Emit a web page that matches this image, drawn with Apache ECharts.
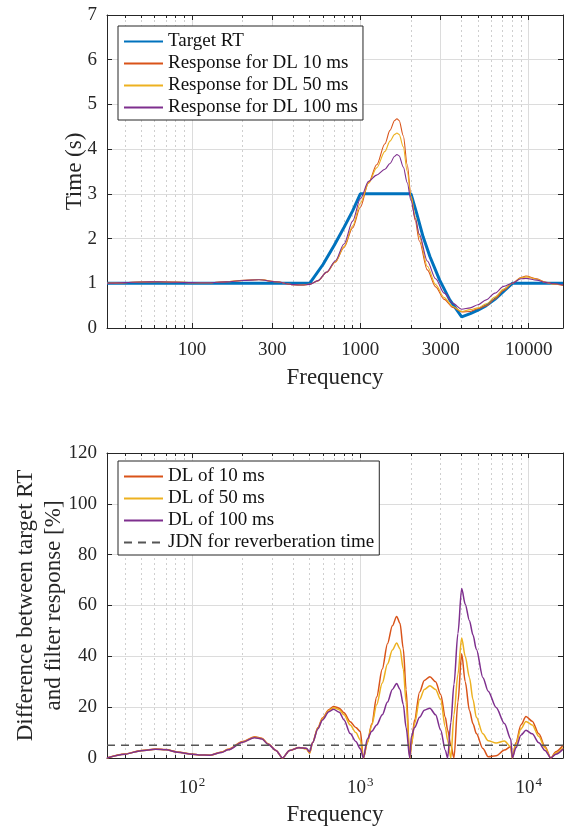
<!DOCTYPE html>
<html>
<head>
<meta charset="utf-8">
<script src="https://cdn.jsdelivr.net/npm/echarts@6/dist/echarts.min.js"></script>
<style>
html, body { margin: 0; padding: 0; background: #fff; }
#chart { width: 564px; height: 830px; }
</style>
</head>
<body>
<div id="chart"></div>
<script>
// frequency range (octave bands 31.25 .. 16000 Hz)
var fMin = 31.25, fMax = 16000;

// top plot: reverberation time
var topMajors = [100, 300, 1000, 3000, 10000];
var topLabels = ['100', '300', '1000', '3000', '10000'];
var topMinors = [40, 50, 60, 70, 80, 90, 200, 400, 500, 600, 700, 800, 900,
  2000, 4000, 5000, 6000, 7000, 8000, 9000];
var botMinors = [40, 50, 60, 70, 80, 90, 200, 300, 400, 500, 600, 700, 800, 900,
  2000, 3000, 4000, 5000, 6000, 7000, 8000, 9000];

var targetF = [31.25, 500, 600, 700, 800, 900, 1000, 2000, 2160, 2360, 2590, 2960, 3400, 4000,
  4500, 5000, 5600, 6300, 7100, 8000, 16000];
var targetRT = [1, 1, 1.42, 1.85, 2.25, 2.62, 3, 3, 2.57, 2.04, 1.6, 1.07, 0.63, 0.25,
  0.32, 0.4, 0.5, 0.64, 0.82, 1, 1];

var fTop = [31.25, 40, 50, 63, 80, 100, 125, 160, 200, 250, 315, 400, 450, 500, 560, 630, 710, 800, 900,
  1000, 1120, 1250, 1400, 1500, 1600, 1650, 1700, 1800, 1900, 2000, 2120, 2240, 2500, 2800, 3150, 3550,
  4000, 4500, 5000, 5600, 6300, 7100, 8000, 9000, 9640, 11200, 12500, 14000, 16000];
var rt10 = [1.00, 1.015, 1.03, 1.035, 1.025, 1.015, 1.011, 1.035, 1.065, 1.083, 1.035, 0.97, 0.96, 0.98, 1.05, 1.24, 1.47, 1.80, 2.24,
  2.70, 3.25, 3.65, 4.12, 4.42, 4.64, 4.68, 4.64, 4.30, 3.65, 2.95, 2.40, 1.95, 1.30, 0.92, 0.64, 0.46,
  0.36, 0.37, 0.43, 0.50, 0.65, 0.84, 1.00, 1.13, 1.163, 1.10, 1.03, 0.99, 0.95];
var rt50 = [1.00, 1.015, 1.03, 1.034, 1.024, 1.015, 1.011, 1.034, 1.063, 1.082, 1.035, 0.97, 0.96, 0.98, 1.06, 1.25, 1.48, 1.82, 2.28,
  2.79, 3.24, 3.58, 3.95, 4.18, 4.33, 4.36, 4.33, 4.05, 3.50, 2.95, 2.50, 2.05, 1.38, 0.97, 0.68, 0.48,
  0.37, 0.41, 0.45, 0.54, 0.69, 0.87, 1.00, 1.12, 1.144, 1.09, 1.02, 0.98, 0.96];
var rt100 = [1.00, 1.015, 1.03, 1.034, 1.023, 1.015, 1.011, 1.032, 1.062, 1.080, 1.035, 0.97, 0.96, 0.975, 1.06, 1.25, 1.50, 1.88, 2.39,
  2.89, 3.28, 3.42, 3.55, 3.68, 3.84, 3.88, 3.85, 3.60, 3.25, 2.85, 2.45, 2.10, 1.50, 1.10, 0.78, 0.55,
  0.42, 0.45, 0.52, 0.63, 0.78, 0.93, 1.00, 1.10, 1.109, 1.07, 1.02, 0.99, 0.965];

// bottom plot: difference between target and response [%]
var botMajors = [100, 1000, 10000];
var botExp = ['2', '3', '4'];
var fBot = [31.25, 40, 50, 61, 70, 82, 100, 110, 128, 150, 164, 200, 235, 260, 283, 315, 345, 380, 432, 477,
  500, 520, 560, 596, 650, 693, 750, 800, 871, 940, 1000, 1043, 1100, 1170, 1250, 1350, 1450, 1550, 1644, 1720,
  1800, 1870, 1967, 2010, 2100, 2250, 2400, 2590, 2800, 3000, 3200, 3300, 3450, 3600, 3800, 4000, 4200, 4450, 4670, 4890,
  5350, 5750, 6410, 7180, 7830, 8000, 8400, 9000, 9640, 10500, 11500, 12500, 13550, 14500, 16000];
var diff10 = [0, 1.6, 3.0, 3.5, 3.3, 2.4, 1.5, 1.2, 1.1, 2.4, 3.4, 6.5, 8.4, 7.8, 5.6, 3.0, 0, 3.0, 4.1, 3.7,
  1.9, 6.0, 12.0, 15.7, 19.0, 20.3, 19.6, 17.8, 14.3, 12.0, 10.4, 0, 6.0, 13.5, 24, 35, 45, 52, 55.7, 53,
  43, 27, 0, 5, 15, 26, 30.5, 32, 30, 25, 16, 11, 5, 0, 22, 41, 30, 18.7, 13.5, 9.6,
  3.7, 0.5, 0.9, 3.1, 4.5, 0, 6, 13, 16.3, 14.5, 9.5, 4.5, 0, 2.5, 5.0];
var diff50 = [0, 1.5, 2.9, 3.4, 3.2, 2.3, 1.5, 1.2, 1.1, 2.3, 3.3, 6.3, 8.2, 7.6, 5.5, 3.0, 0, 3.0, 4.0, 3.6,
  2.0, 6.0, 11.8, 15.4, 18.7, 19.8, 19.0, 17.0, 13.0, 10.0, 7.1, 0, 6.0, 13, 21, 29.5, 37, 42.5, 45.2, 43,
  35, 22, 0, 5, 13.5, 23, 27, 28.4, 27, 23, 12, 7, 0, 17, 33, 47.2, 40, 31.6, 23, 16,
  9.5, 6.8, 5.9, 6.7, 4.4, 0, 5.5, 11.5, 14.4, 13, 8.5, 4, 0, 2, 4.0];
var diff100 = [0, 1.5, 2.9, 3.4, 3.2, 2.3, 1.5, 1.2, 1.1, 2.2, 3.2, 6.2, 8.0, 7.5, 5.4, 3.0, 0, 3.0, 4.0, 3.8,
  2.5, 6.0, 11.5, 15.0, 18.2, 19.2, 18.0, 15.0, 9.6, 6.5, 3.6, 0, 7.5, 10.5, 13, 17, 22, 27, 29.3, 27,
  21, 12, 0, 8.5, 12, 16, 18.8, 19.6, 17, 11, 3, 0, 14, 29, 49, 66.7, 60.5, 54, 48.4, 42.8,
  31.6, 26.3, 19.9, 13.6, 7.5, 0, 4, 9, 10.9, 9.5, 6, 3, 0, 1.5, 3.5];
var jdn = 5;

var C_BLUE = '#0072BD', C_RED = '#D95319', C_YEL = '#EDB120', C_PUR = '#7E2F8E';
var AX = '#262626', FONT = 'Liberation Serif';

function zip(xs, ys) { return xs.map(function (x, i) { return [x, ys[i]]; }); }

function labelFor(majors, labels, v) {
  for (var i = 0; i < majors.length; i++) {
    if (Math.abs(majors[i] - v) / majors[i] < 1e-6) return labels[i];
  }
  return '';
}

var nameStyle = { fontFamily: FONT, fontSize: 23, color: AX, lineHeight: 28 };

// 4 x axes per panel: labelled bottom (major grid), minor grid, top major / minor ticks
function freqAxes(gi, majors, minors, fmt, labelMargin, nameGap) {
  var base = { gridIndex: gi, type: 'log', logBase: 10, min: fMin, max: fMax };
  var line = { show: true, onZero: false, lineStyle: { color: AX, width: 1 } };
  return [
    Object.assign({}, base, {
      position: 'bottom', axisLine: line,
      axisTick: { show: true, inside: true, length: 5, customValues: majors, lineStyle: { color: AX } },
      axisLabel: { customValues: majors, formatter: fmt, margin: labelMargin, color: AX, fontFamily: FONT, fontSize: 19,
        rich: { b: { fontFamily: FONT, fontSize: 19, color: AX }, s: { fontFamily: FONT, fontSize: 13, color: AX, padding: [0, 0, 12, 1] } } },
      splitLine: { show: true, lineStyle: { color: '#dcdcdc', width: 1 } },
      name: 'Frequency', nameLocation: 'middle', nameGap: nameGap, nameMoveOverlap: false,
      nameTextStyle: nameStyle
    }),
    Object.assign({}, base, {
      position: 'bottom', axisLine: { show: false, onZero: false },
      axisTick: { show: true, inside: true, length: 3, customValues: minors, lineStyle: { color: AX } },
      axisLabel: { show: false },
      splitLine: { show: true, lineStyle: { color: '#cfcfcf', width: 1, type: [2, 3] } }
    }),
    Object.assign({}, base, {
      position: 'top', axisLine: line,
      axisTick: { show: true, inside: true, length: 5, customValues: majors, lineStyle: { color: AX } },
      axisLabel: { show: false }, splitLine: { show: false }
    }),
    Object.assign({}, base, {
      position: 'top', axisLine: { show: false, onZero: false },
      axisTick: { show: true, inside: true, length: 3, customValues: minors, lineStyle: { color: AX } },
      axisLabel: { show: false }, splitLine: { show: false }
    })
  ];
}

function valueAxes(gi, max, interval, name, nameGap) {
  var line = { show: true, onZero: false, lineStyle: { color: AX, width: 1 } };
  return [
    { gridIndex: gi, type: 'value', min: 0, max: max, interval: interval, position: 'left',
      axisLine: line, axisTick: { show: true, inside: true, length: 5, lineStyle: { color: AX } },
      axisLabel: { margin: 10, color: AX, fontFamily: FONT, fontSize: 19 },
      splitLine: { show: true, lineStyle: { color: '#dcdcdc', width: 1 } },
      name: name, nameLocation: 'middle', nameGap: nameGap, nameMoveOverlap: false,
      nameTextStyle: nameStyle },
    { gridIndex: gi, type: 'value', min: 0, max: max, interval: interval, position: 'right',
      axisLine: line, axisTick: { show: true, inside: true, length: 5, lineStyle: { color: AX } },
      axisLabel: { show: false }, splitLine: { show: false } }
  ];
}

var topFmt = function (v) { return labelFor(topMajors, topLabels, v); };
var botFmt = function (v) { return '{b|10}{s|' + labelFor(botMajors, botExp, v) + '}'; };

var chart = echarts.init(document.getElementById('chart'), null, { renderer: 'canvas' });

function lineSeries(name, xi, yi, data, color, width, extra) {
  return Object.assign({
    name: name, type: 'line', xAxisIndex: xi, yAxisIndex: yi, data: data,
    symbol: 'none', smooth: 0.3, smoothMonotone: 'x', clip: true,
    lineStyle: { color: color, width: width }, itemStyle: { color: color }
  }, extra || {});
}

var legendBase = {
  orient: 'vertical', left: 118, itemWidth: 39, itemHeight: 2, itemGap: 3,
  padding: [6, 5, 3, 5], borderColor: AX, borderWidth: 1, backgroundColor: '#fff',
  itemStyle: { opacity: 0 },
  textStyle: { fontFamily: FONT, fontSize: 19, color: '#111', lineHeight: 19 },
  selectedMode: false
};

chart.setOption({
  animation: false,
  backgroundColor: '#fff',
  grid: [
    { left: 107, top: 15, width: 456, height: 313, containLabel: false },
    { left: 107, top: 453, width: 456, height: 308, containLabel: false }
  ],
  legend: [
    Object.assign({}, legendBase, { top: 26,
      data: ['Target RT', 'Response for DL 10 ms', 'Response for DL 50 ms', 'Response for DL 100 ms'] }),
    Object.assign({}, legendBase, { top: 461,
      data: ['DL of 10 ms', 'DL of 50 ms', 'DL of 100 ms', 'JDN for reverberation time'] })
  ],
  xAxis: freqAxes(0, topMajors, topMinors, topFmt, 13, 36).concat(
    freqAxes(1, botMajors, botMinors, botFmt, 18, 43)),
  yAxis: valueAxes(0, 7, 1, 'Time (s)', 18).concat(
    valueAxes(1, 120, 20, 'Difference between target RT\nand filter response [%]', 39)),
  series: [
    lineSeries('Target RT', 0, 0, zip(targetF, targetRT), C_BLUE, 3, { smooth: false }),
    lineSeries('Response for DL 10 ms', 0, 0, zip(fTop, rt10), C_RED, 1.1),
    lineSeries('Response for DL 50 ms', 0, 0, zip(fTop, rt50), C_YEL, 1.1),
    lineSeries('Response for DL 100 ms', 0, 0, zip(fTop, rt100), C_PUR, 1.1),
    lineSeries('DL of 10 ms', 4, 2, zip(fBot, diff10), C_RED, 1.5),
    lineSeries('DL of 50 ms', 4, 2, zip(fBot, diff50), C_YEL, 1.5),
    lineSeries('DL of 100 ms', 4, 2, zip(fBot, diff100), C_PUR, 1.5),
    lineSeries('JDN for reverberation time', 4, 2, [[fMin, jdn], [fMax, jdn]], '#555555', 1.6,
      { smooth: false, lineStyle: { color: '#555555', width: 1.6, type: [8, 6] } })
  ]
});
</script>
</body>
</html>
